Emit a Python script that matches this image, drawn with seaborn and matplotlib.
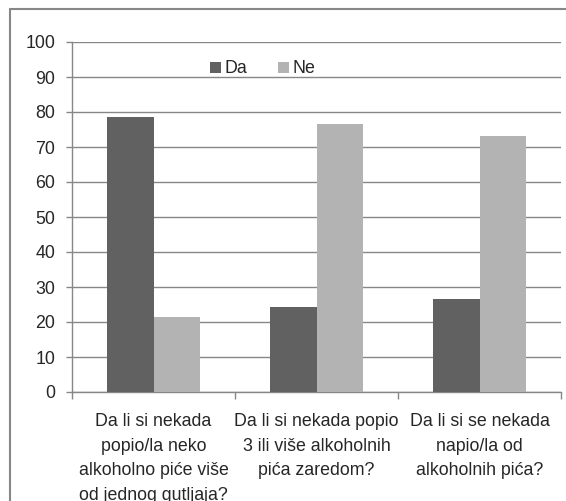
import numpy as np
import pandas as pd
import matplotlib
matplotlib.use('Agg')
import matplotlib.pyplot as plt
from matplotlib.lines import Line2D
import seaborn as sns

# data
questions = [
    'Da li si nekada\npopio/la neko\nalkoholno piće više\nod jednog gutljaja?',
    'Da li si nekada popio\n3 ili više alkoholnih\npića zaredom?',
    'Da li si se nekada\nnapio/la od\nalkoholnih pića?',
]
answers = ['Da', 'Ne']
da_values = [78.7, 24.2, 26.6]
ne_values = [21.3, 76.6, 73.2]
y_ticks = [0, 10, 20, 30, 40, 50, 60, 70, 80, 90, 100]

df = pd.DataFrame({
    'pitanje': questions * 2,
    'odgovor': ['Da'] * 3 + ['Ne'] * 3,
    'procenat': da_values + ne_values,
})

sns.set_style('white')
plt.rcParams['font.family'] = ['Liberation Sans', 'DejaVu Sans']
fs = 12.8

grey = '#878787'

fig = plt.figure(figsize=(5.66, 5.01), dpi=100)
ax = fig.add_axes([72 / 566, 1 - 392 / 501, (561 - 72) / 566, (392 - 42) / 501])

sns.barplot(data=df, x='pitanje', y='procenat', hue='odgovor',
            hue_order=answers, order=questions,
            palette={'Da': '#616161', 'Ne': '#b3b3b3'},
            width=0.57, gap=0, linewidth=0, ax=ax, zorder=3)

ax.set_ylim(0, 100)
ax.set_xlim(-0.5, 2.5)
ax.set_yticks(y_ticks)
ax.set_xlabel('')
ax.set_ylabel('')

# grid + spines
ax.yaxis.grid(True, color=grey, linewidth=1.0)
ax.set_axisbelow(True)
for side in ['top', 'right']:
    ax.spines[side].set_visible(False)
for side in ['left', 'bottom']:
    ax.spines[side].set_color(grey)
    ax.spines[side].set_linewidth(1.0)

ax.tick_params(axis='y', length=4, width=1, color=grey, pad=8, labelsize=fs, left=True)
ax.tick_params(axis='x', which='major', length=0, pad=15, labelsize=fs)
ax.set_xticks([-0.5, 0.5, 1.5, 2.5], minor=True)
ax.tick_params(axis='x', which='minor', length=5, width=1, color=grey, bottom=True)
for lbl in ax.get_xticklabels():
    lbl.set_linespacing(1.6)
    lbl.set_ha('center')

ax.legend(loc='center', bbox_to_anchor=(0.39, 0.923), ncol=2, frameon=False,
          handlelength=0.6, handleheight=0.6, handletextpad=0.2,
          columnspacing=1.75, fontsize=fs)

# outer chart border (left and top only visible in the crop)
fig.add_artist(Line2D([9.5 / 566, 9.5 / 566], [0, 1 - 8.5 / 501],
                      transform=fig.transFigure, color=grey, linewidth=1.5))
fig.add_artist(Line2D([9.5 / 566, 1], [1 - 8.5 / 501, 1 - 8.5 / 501],
                      transform=fig.transFigure, color=grey, linewidth=1.5))

plt.savefig('out.png', dpi=100)
